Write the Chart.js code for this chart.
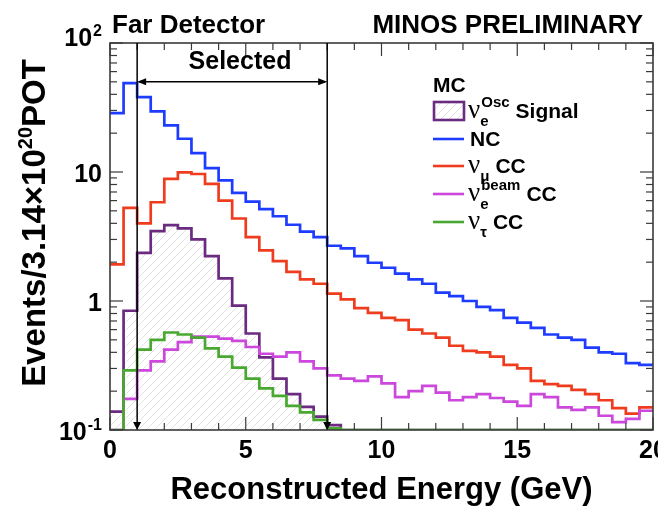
<!DOCTYPE html>
<html>
<head>
<meta charset="utf-8">
<script src="https://cdn.jsdelivr.net/npm/chart.js@4.4.1/dist/chart.umd.min.js"></script>
<style>
  html, body { margin: 0; padding: 0; background: #fff; }
  #wrap { width: 658px; height: 509px; }
</style>
</head>
<body>
<div id="wrap"><canvas id="myChart" width="658" height="509"></canvas></div>
<script>
// bin edges in GeV (0.5 GeV bins)
const binEdges = [0, 0.5, 1, 1.5, 2, 2.5, 3, 3.5, 4, 4.5, 5, 5.5, 6, 6.5, 7, 7.5, 8, 8.5, 9, 9.5,
  10, 10.5, 11, 11.5, 12, 12.5, 13, 13.5, 14, 14.5, 15, 15.5, 16, 16.5, 17, 17.5, 18, 18.5, 19, 19.5, 20];

// events per bin
const signal = [0.139, 0.84, 2.36, 3.48, 3.87, 3.65, 3.0, 2.23, 1.50, 0.92,
  0.56, 0.365, 0.25, 0.19, 0.151, 0.127, 0.109, 0, 0, 0,
  0, 0, 0, 0, 0, 0, 0, 0, 0, 0, 0, 0, 0, 0, 0, 0, 0, 0, 0, 0];
const nc = [28.6, 48.8, 38.0, 29.5, 23.0, 18.1, 14.0, 10.7, 8.6, 6.9,
  5.9, 5.15, 4.54, 3.9, 3.45, 3.13, 2.68, 2.56, 2.23, 1.98,
  1.81, 1.63, 1.47, 1.36, 1.16, 1.09, 1.0, 0.90, 0.85, 0.74,
  0.68, 0.62, 0.55, 0.52, 0.50, 0.435, 0.40, 0.39, 0.33, 0.32];
const numuCC = [1.92, 5.27, 3.99, 5.83, 8.83, 9.95, 9.65, 8.08, 6.01, 4.36,
  3.13, 2.47, 2.04, 1.68, 1.47, 1.36, 1.14, 1.03, 0.88, 0.81,
  0.74, 0.71, 0.60, 0.56, 0.52, 0.45, 0.41, 0.40, 0.37, 0.32,
  0.30, 0.24, 0.227, 0.22, 0.205, 0.19, 0.17, 0.148, 0.134, 0.15];
const nueBeamCC = [0, 0.174, 0.29, 0.34, 0.42, 0.48, 0.53, 0.53, 0.51, 0.49,
  0.44, 0.39, 0.37, 0.40, 0.34, 0.30, 0.265, 0.25, 0.24, 0.26,
  0.23, 0.18, 0.20, 0.22, 0.195, 0.17, 0.18, 0.19, 0.177, 0.166,
  0.154, 0.19, 0.18, 0.15, 0.143, 0.15, 0.129, 0.115, 0.122, 0.141];
const nutauCC = [0, 0.29, 0.42, 0.50, 0.57, 0.55, 0.52, 0.43, 0.37, 0.305,
  0.25, 0.21, 0.184, 0.154, 0.137, 0.12, 0.103, 0, 0, 0,
  0, 0, 0, 0, 0, 0, 0, 0, 0, 0, 0, 0, 0, 0, 0, 0, 0, 0, 0, 0];

const xTicks = [0, 5, 10, 15, 20];
const yTicks = [0.1, 1, 10, 100];
const yTickBase = ["10", "1", "10", "10"];
const yTickExp = ["-1", "", "", "2"];
const selectedCut = [1, 8];

const FONT = "'Liberation Sans', Arial, Helvetica, sans-serif";
const Y_MIN = 0.1;
const colors = {
  signal: "#6a2b80",
  nc: "#1e3cff",
  numu: "#f03c1e",
  nue: "#cc48dc",
  nutau: "#48a830"
};

// histogram as points at left bin edges, drawn with stepped lines
function steps(vals) {
  const pts = vals.map((v, i) => ({ x: binEdges[i], y: v > 0 ? v : Y_MIN }));
  pts.push({ x: binEdges[vals.length], y: pts[pts.length - 1].y });
  return pts;
}

const ctx = document.getElementById("myChart").getContext("2d");

function makeHatch() {
  const c = document.createElement("canvas");
  c.width = 8; c.height = 8;
  const g = c.getContext("2d");
  g.strokeStyle = "#e0e0e0";
  g.lineWidth = 0.9;
  g.beginPath();
  g.moveTo(-1, 9); g.lineTo(9, -1);
  g.moveTo(-5, 5); g.lineTo(5, -5);
  g.moveTo(3, 13); g.lineTo(13, 3);
  g.stroke();
  return ctx.createPattern(c, "repeat");
}
const hatch = makeHatch();

function seg(c, x1, y1, x2, y2) {
  c.beginPath(); c.moveTo(x1, y1); c.lineTo(x2, y2); c.stroke();
}
function tri(c, pts) {
  c.beginPath(); c.moveTo(pts[0], pts[1]); c.lineTo(pts[2], pts[3]); c.lineTo(pts[4], pts[5]); c.closePath(); c.fill();
}

const decorations = {
  id: "decorations",
  afterDatasetsDraw(chart) {
    const c = chart.ctx;
    const a = chart.chartArea;
    const x = chart.scales.x, y = chart.scales.y;
    c.save();

    // tick marks on all four sides
    c.strokeStyle = "#3a3a3a";
    c.lineWidth = 1.2;
    for (let e = 0; e <= 20; e++) {
      const px = x.getPixelForValue(e);
      const len = e % 5 === 0 ? 13 : 7;
      seg(c, px, a.bottom, px, a.bottom - len);
      seg(c, px, a.top, px, a.top + len);
    }
    for (let d = 0; d < yTicks.length; d++) {
      for (let m = 1; m <= 9; m++) {
        const v = yTicks[d] * m;
        if (v > 100.0001) break;
        const py = y.getPixelForValue(v);
        const len = m === 1 ? 13 : 7;
        seg(c, a.left, py, a.left + len, py);
        seg(c, a.right, py, a.right - len, py);
      }
    }
    c.lineWidth = 1.6;
    c.strokeRect(a.left, a.top, a.right - a.left, a.bottom - a.top);

    // y tick labels with exponents
    c.fillStyle = "#000";
    c.textBaseline = "alphabetic";
    c.textAlign = "right";
    yTicks.forEach((v, i) => {
      const py = y.getPixelForValue(v);
      let right = a.left - 8;
      const exp = yTickExp[i];
      let base = py + 10;
      if (i === yTicks.length - 1) base = py + 3;
      if (exp) {
        c.font = "bold 16px " + FONT;
        c.fillText(exp, right, base - 10);
        right -= c.measureText(exp).width + 1;
      }
      c.font = "bold 25px " + FONT;
      c.fillText(yTickBase[i], right, base);
    });

    // y title, rotated, with superscript
    c.save();
    c.translate(45, 223);
    c.rotate(-Math.PI / 2);
    const p1 = "Events/3.14\u00d710", p2 = "20", p3 = "POT";
    c.font = "bold 33px " + FONT;
    const w1 = c.measureText(p1).width, w3 = c.measureText(p3).width;
    c.font = "bold 20px " + FONT;
    const w2 = c.measureText(p2).width;
    let tx = -(w1 + w2 + w3) / 2;
    c.textAlign = "left";
    c.font = "bold 33px " + FONT;
    c.fillText(p1, tx, 0);
    tx += w1;
    c.font = "bold 20px " + FONT;
    c.fillText(p2, tx, -13);
    tx += w2;
    c.font = "bold 33px " + FONT;
    c.fillText(p3, tx, 0);
    c.restore();

    // header texts
    c.font = "bold 26px " + FONT;
    c.textAlign = "left";
    c.fillText("Far Detector", 112, 33);
    c.textAlign = "right";
    c.fillText("MINOS PRELIMINARY", 643, 33);

    // selected region
    c.strokeStyle = "#000";
    c.fillStyle = "#000";
    c.lineWidth = 1.5;
    const sx = selectedCut.map(v => x.getPixelForValue(v));
    sx.forEach(px => {
      seg(c, px, a.top, px, a.bottom - 2);
      tri(c, [px, a.bottom, px - 4, a.bottom - 8, px + 4, a.bottom - 8]);
    });
    const ay = y.getPixelForValue(50);
    seg(c, sx[0] + 2, ay, sx[1] - 2, ay);
    tri(c, [sx[0], ay, sx[0] + 9, ay - 3.5, sx[0] + 9, ay + 3.5]);
    tri(c, [sx[1], ay, sx[1] - 9, ay - 3.5, sx[1] - 9, ay + 3.5]);
    c.font = "bold 25px " + FONT;
    c.textAlign = "center";
    c.fillText("Selected", 240, 69);

    // legend
    c.textAlign = "left";
    c.font = "bold 21px " + FONT;
    c.fillText("MC", 433, 92);
    const rows = [
      { y: 111, color: colors.signal, box: true, sub: "e", sup: "Osc", text: "Signal", nu: true },
      { y: 139, color: colors.nc, text: "NC", nu: false },
      { y: 166, color: colors.numu, sub: "\u03bc", text: "CC", nu: true },
      { y: 194, color: colors.nue, sub: "e", sup: "beam", text: "CC", nu: true },
      { y: 222, color: colors.nutau, sub: "\u03c4", text: "CC", nu: true }
    ];
    rows.forEach(r => {
      if (r.box) {
        c.fillStyle = hatch;
        c.fillRect(434, r.y - 9, 30, 18);
        c.strokeStyle = r.color;
        c.lineWidth = 2.6;
        c.strokeRect(434, r.y - 9, 30, 18);
      } else {
        c.strokeStyle = r.color;
        c.lineWidth = 2.6;
        seg(c, 433, r.y, 464, r.y);
      }
      c.fillStyle = "#000";
      let tx = 470;
      if (r.nu) {
        c.font = "27px 'Liberation Serif', 'DejaVu Serif', serif";
        c.fillText("\u03bd", 468, r.y + 7);
        const nx = 468 + c.measureText("\u03bd").width;
        let end = nx;
        c.font = "bold 15px " + FONT;
        if (r.sub) {
          c.fillText(r.sub, nx, r.y + 15);
          end = Math.max(end, nx + c.measureText(r.sub).width);
        }
        if (r.sup) {
          c.fillText(r.sup, nx + 1, r.y - 4);
          end = Math.max(end, nx + 1 + c.measureText(r.sup).width);
        }
        tx = end + 6;
      }
      c.font = "bold 21px " + FONT;
      c.fillText(r.text, tx, r.y + 7);
    });

    c.restore();
  }
};

const lineDs = (label, vals, color, order, extra) => Object.assign({
  label: label,
  data: steps(vals),
  borderColor: color,
  backgroundColor: color,
  borderWidth: 2.7,
  stepped: "before",
  pointRadius: 0,
  fill: false,
  order: order
}, extra || {});

new Chart(ctx, {
  type: "line",
  data: {
    datasets: [
      lineDs("Signal", signal, colors.signal, 5, { fill: "start", backgroundColor: hatch }),
      lineDs("NC", nc, colors.nc, 4),
      lineDs("numu CC", numuCC, colors.numu, 3),
      lineDs("nue beam CC", nueBeamCC, colors.nue, 2),
      lineDs("nutau CC", nutauCC, colors.nutau, 1)
    ]
  },
  options: {
    responsive: false,
    animation: false,
    layout: { padding: { top: 43, right: 5, left: 0, bottom: 0 } },
    plugins: { legend: { display: false }, tooltip: { enabled: false } },
    scales: {
      x: {
        type: "linear",
        min: 0,
        max: 20,
        grid: { display: false, drawTicks: false },
        border: { display: false },
        afterBuildTicks: s => { s.ticks = xTicks.map(v => ({ value: v })); },
        ticks: {
          padding: 6,
          color: "#000",
          maxRotation: 0,
          autoSkip: false,
          font: { family: FONT, size: 25, weight: "bold" }
        },
        title: {
          display: true,
          text: "Reconstructed Energy (GeV)",
          color: "#000",
          padding: 0,
          font: { family: FONT, size: 31, weight: "bold" }
        },
        afterFit: s => { s.height = 79; s.paddingLeft = 0; s.paddingRight = 0; }
      },
      y: {
        type: "logarithmic",
        min: 0.1,
        max: 100,
        grid: { display: false, drawTicks: false },
        border: { display: false },
        ticks: { display: false },
        afterFit: s => { s.width = 110; }
      }
    }
  },
  plugins: [decorations]
});
</script>
</body>
</html>
